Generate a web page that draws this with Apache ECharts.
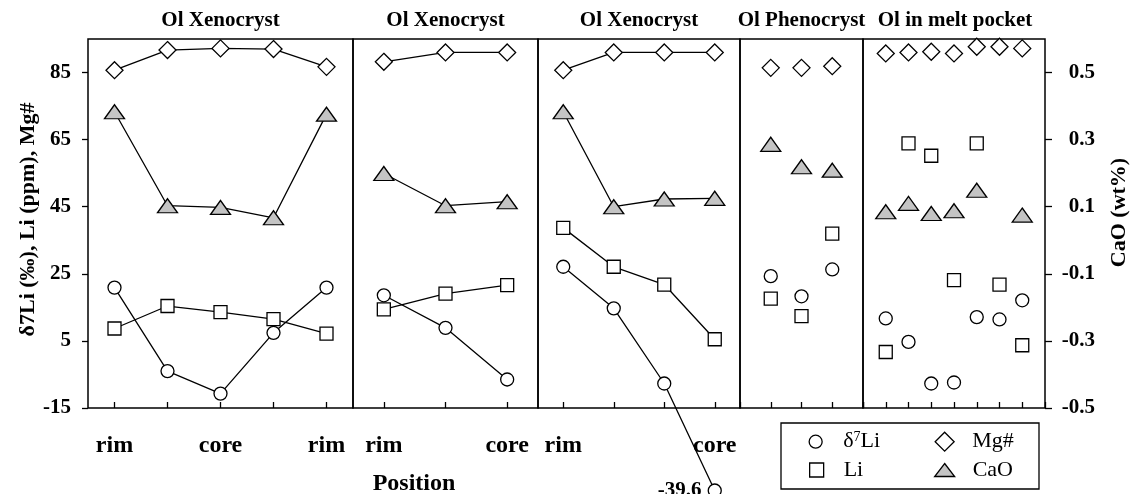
<!DOCTYPE html>
<html>
<head>
<meta charset="utf-8">
<script src="https://cdn.jsdelivr.net/npm/echarts@6/dist/echarts.min.js"></script>
<style>
  html, body { margin: 0; padding: 0; background: #fff; }
  #chart { width: 1131px; height: 494px; }
</style>
</head>
<body>
<div id="chart"></div>
<script>
// ---- data ----
const panelTitles = ['Ol Xenocryst', 'Ol Xenocryst', 'Ol Xenocryst', 'Ol Phenocryst', 'Ol in melt pocket'];
// profile positions for the three xenocryst traverses
const positionLabels = [
  ['rim', '', 'core', '', 'rim'],
  ['rim', '', 'core'],
  ['rim', '', '', 'core']
];
// spot numbers for the phenocryst and melt-pocket grains
const phenoSpots = [1, 2, 3];
const meltSpots = [1, 2, 3, 4, 5, 6, 7];

const d7Li = [
  [20.9, -4.0, -10.7, 7.4, 20.9],
  [18.6, 8.9, -6.5],
  [27.1, 14.7, -7.7, -39.6],
  [24.3, 18.3, 26.3],
  [11.7, 4.7, -7.7, -7.4, 12.1, 11.4, 17.1]
];
const liPpm = [
  [8.7, 15.4, 13.6, 11.5, 7.2],
  [14.4, 19.1, 21.6],
  [38.7, 27.1, 21.8, 5.5],
  [17.6, 12.4, 37.0],
  [1.7, 63.9, 60.2, 23.1, 63.9, 21.8, 3.7]
];
const mgNum = [
  [85.7, 91.7, 92.2, 92.0, 86.7],
  [88.2, 91.0, 91.0],
  [85.7, 91.0, 91.0, 91.0],
  [86.4, 86.4, 86.9],
  [90.7, 91.0, 91.2, 90.7, 92.7, 92.7, 92.2]
];
const caO = [
  [0.383, 0.103, 0.098, 0.067, 0.376],
  [0.199, 0.103, 0.115],
  [0.383, 0.100, 0.123, 0.125],
  [0.286, 0.219, 0.209],
  [0.085, 0.110, 0.080, 0.088, 0.149, null, 0.075]
];

const leftTicks = [-15, 5, 25, 45, 65, 85];
const rightTicks = [-0.5, -0.3, -0.1, 0.1, 0.3, 0.5];

// ---- layout ----
const FONT = 'Liberation Serif';
const gridLeft = [88, 353, 538, 740, 863];
const gridWidth = [265, 185, 202, 123, 184];
const gridTop = 39;
const gridHeight = 369;
const LEFT_MIN = -15, LEFT_MAX = 95;
const RIGHT_MIN = -0.5, RIGHT_MAX = 0.6;

const ink = '#000';
const triangleFill = '#c4c4c4';

const spotSets = [null, null, null, phenoSpots, meltSpots];
const slotCounts = [null, null, null, 4, 8];

const grids = [], xAxes = [], yAxes = [], titles = [], series = [];

const markerStyle = (fill) => ({ color: fill, borderColor: ink, borderWidth: 1.3, opacity: 1 });

for (let i = 0; i < 5; i++) {
  grids.push({
    left: gridLeft[i], top: gridTop, width: gridWidth[i], height: gridHeight,
    show: true, borderColor: ink, borderWidth: 1.5, backgroundColor: 'transparent'
  });

  titles.push({
    text: panelTitles[i],
    left: gridLeft[i] + gridWidth[i] / 2,
    textAlign: 'center',
    top: 10,
    padding: 0,
    textStyle: { fontFamily: FONT, fontWeight: 'bold', fontSize: 21, color: ink }
  });

  const tickStyle = { color: ink, width: 1.3 };
  if (i < 3) {
    xAxes.push({
      type: 'category', gridIndex: i, data: positionLabels[i], boundaryGap: true,
      axisLine: { show: false, onZero: false },
      axisTick: { show: true, inside: true, length: 6, alignWithLabel: true, interval: 0, lineStyle: tickStyle },
      axisLabel: { interval: 0, margin: 26, fontFamily: FONT, fontWeight: 'bold', fontSize: 24, color: ink },
      splitLine: { show: false }
    });
  } else {
    xAxes.push({
      type: 'value', gridIndex: i, min: 0, max: slotCounts[i], interval: 1,
      axisLine: { show: false, onZero: false },
      axisTick: { show: true, inside: true, length: 6, lineStyle: tickStyle },
      axisLabel: { show: false },
      splitLine: { show: false }
    });
  }

  // left axis: δ7Li, Li, Mg#
  yAxes.push({
    type: 'value', gridIndex: i, position: 'left',
    min: LEFT_MIN, max: LEFT_MAX, interval: 20,
    name: i === 0 ? 'δ7Li (‰), Li (ppm), Mg#' : '',
    nameLocation: 'middle', nameGap: 47,
    nameTextStyle: {
      fontFamily: FONT, fontWeight: 'bold', fontSize: 22, color: ink,
      padding: [0, 0, 0, 8]
    },
    axisLine: { show: false, onZero: false },
    axisTick: { show: i === 0, length: 6, lineStyle: tickStyle, customValues: leftTicks },
    axisLabel: {
      show: i === 0, margin: 17, customValues: leftTicks,
      fontFamily: FONT, fontWeight: 'bold', fontSize: 21, color: ink
    },
    splitLine: { show: false }
  });
  // right axis: CaO
  yAxes.push({
    type: 'value', gridIndex: i, position: 'right',
    min: RIGHT_MIN, max: RIGHT_MAX, interval: 0.2,
    name: i === 4 ? 'CaO (wt%)' : '',
    nameLocation: 'middle', nameGap: 63,
    nameTextStyle: {
      fontFamily: FONT, fontWeight: 'bold', fontSize: 22, color: ink,
      padding: [0, 0, 0, 22]
    },
    axisLine: { show: false, onZero: false },
    axisTick: { show: i === 4, length: 7, lineStyle: tickStyle, customValues: rightTicks },
    axisLabel: {
      show: i === 4, margin: 50, align: 'right', customValues: rightTicks,
      formatter: (v) => v.toFixed(1),
      fontFamily: FONT, fontWeight: 'bold', fontSize: 21, color: ink
    },
    splitLine: { show: false }
  });

  const connected = i < 3;
  const toData = (arr) => connected
    ? arr.map((v) => (v == null ? '-' : v))
    : arr.map((v, k) => [spotSets[i][k], v == null ? '-' : v]);

  const defs = [
    { name: 'Mg#', values: mgNum[i], axis: 0, symbol: 'diamond', size: 17, fill: '#fff' },
    { name: 'CaO', values: caO[i], axis: 1, symbol: 'triangle', size: [20, 14], fill: triangleFill },
    { name: 'Li', values: liPpm[i], axis: 0, symbol: 'rect', size: 13, fill: '#fff' },
    { name: 'δ7Li', values: d7Li[i], axis: 0, symbol: 'circle', size: 13, fill: '#fff' }
  ];
  defs.forEach((d) => {
    let data = toData(d.values);
    if (d.axis === 0) {
      // values below the axis floor keep their number as a label
      data = data.map((item, k) => {
        const v = d.values[k];
        if (v != null && v < LEFT_MIN) {
          return {
            value: item,
            label: {
              show: true, position: 'left', distance: 6,
              formatter: String(v),
              fontFamily: FONT, fontWeight: 'bold', fontSize: 21, color: ink
            }
          };
        }
        return item;
      });
    }
    series.push({
      name: d.name,
      type: connected ? 'line' : 'scatter',
      xAxisIndex: i,
      yAxisIndex: 2 * i + d.axis,
      data: data,
      symbol: d.symbol,
      symbolSize: d.size,
      showAllSymbol: true,
      clip: false,
      silent: true,
      animation: false,
      itemStyle: markerStyle(d.fill),
      lineStyle: { color: ink, width: 1.3 },
      emphasis: { disabled: true }
    });
  });
}

titles.push({
  text: 'Position',
  left: (gridLeft[0] + gridLeft[3]) / 2,
  textAlign: 'center',
  top: 472,
  padding: 0,
  textStyle: { fontFamily: FONT, fontWeight: 'bold', fontSize: 24, color: ink }
});

// legend: one component per entry so each keeps its own marker size
const legendEntries = [
  { name: 'δ7Li', icon: 'circle', w: 13, h: 13, cx: 815, cy: 441.7, gap: 16, fill: '#fff' },
  { name: 'Li', icon: 'rect', w: 14, h: 14, cx: 816, cy: 470, gap: 15, fill: '#fff' },
  { name: 'Mg#', icon: 'diamond', w: 19, h: 19, cx: 944, cy: 441.7, gap: 13, fill: '#fff' },
  { name: 'CaO', icon: 'triangle', w: 20, h: 13, cx: 944, cy: 470, gap: 13, fill: triangleFill }
];
const LEG_LINE = 22;
const legends = legendEntries.map((e) => ({
  show: true,
  selectedMode: false,
  orient: 'horizontal',
  left: e.cx - e.w / 2,
  top: e.cy - Math.max(LEG_LINE, e.h) / 2,
  padding: 0,
  itemWidth: e.w,
  itemHeight: e.h,
  data: [{ name: e.name, icon: e.icon, itemStyle: { color: e.fill, borderColor: ink, borderWidth: 1.3 } }],
  formatter: (name) => name === 'δ7Li' ? '{n|δ}{s|7}{n|Li}' : '{n|' + name + '}',
  textStyle: {
    fontFamily: FONT, fontSize: 22, lineHeight: LEG_LINE, color: ink,
    padding: [0, 0, 0, e.gap],
    rich: {
      n: { fontFamily: FONT, fontSize: 22, lineHeight: LEG_LINE, color: ink },
      s: { fontFamily: FONT, fontSize: 14, lineHeight: 14, verticalAlign: 'top', color: ink }
    }
  }
}));

const chart = echarts.init(document.getElementById('chart'), null, { renderer: 'canvas' });
chart.setOption({
  backgroundColor: '#fff',
  animation: false,
  title: titles,
  grid: grids,
  xAxis: xAxes,
  yAxis: yAxes,
  legend: legends,
  series: series,
  graphic: [{
    type: 'rect',
    shape: { x: 781, y: 423, width: 258, height: 66 },
    style: { fill: 'none', stroke: ink, lineWidth: 1.3 },
    silent: true
  }]
});
</script>
</body>
</html>
